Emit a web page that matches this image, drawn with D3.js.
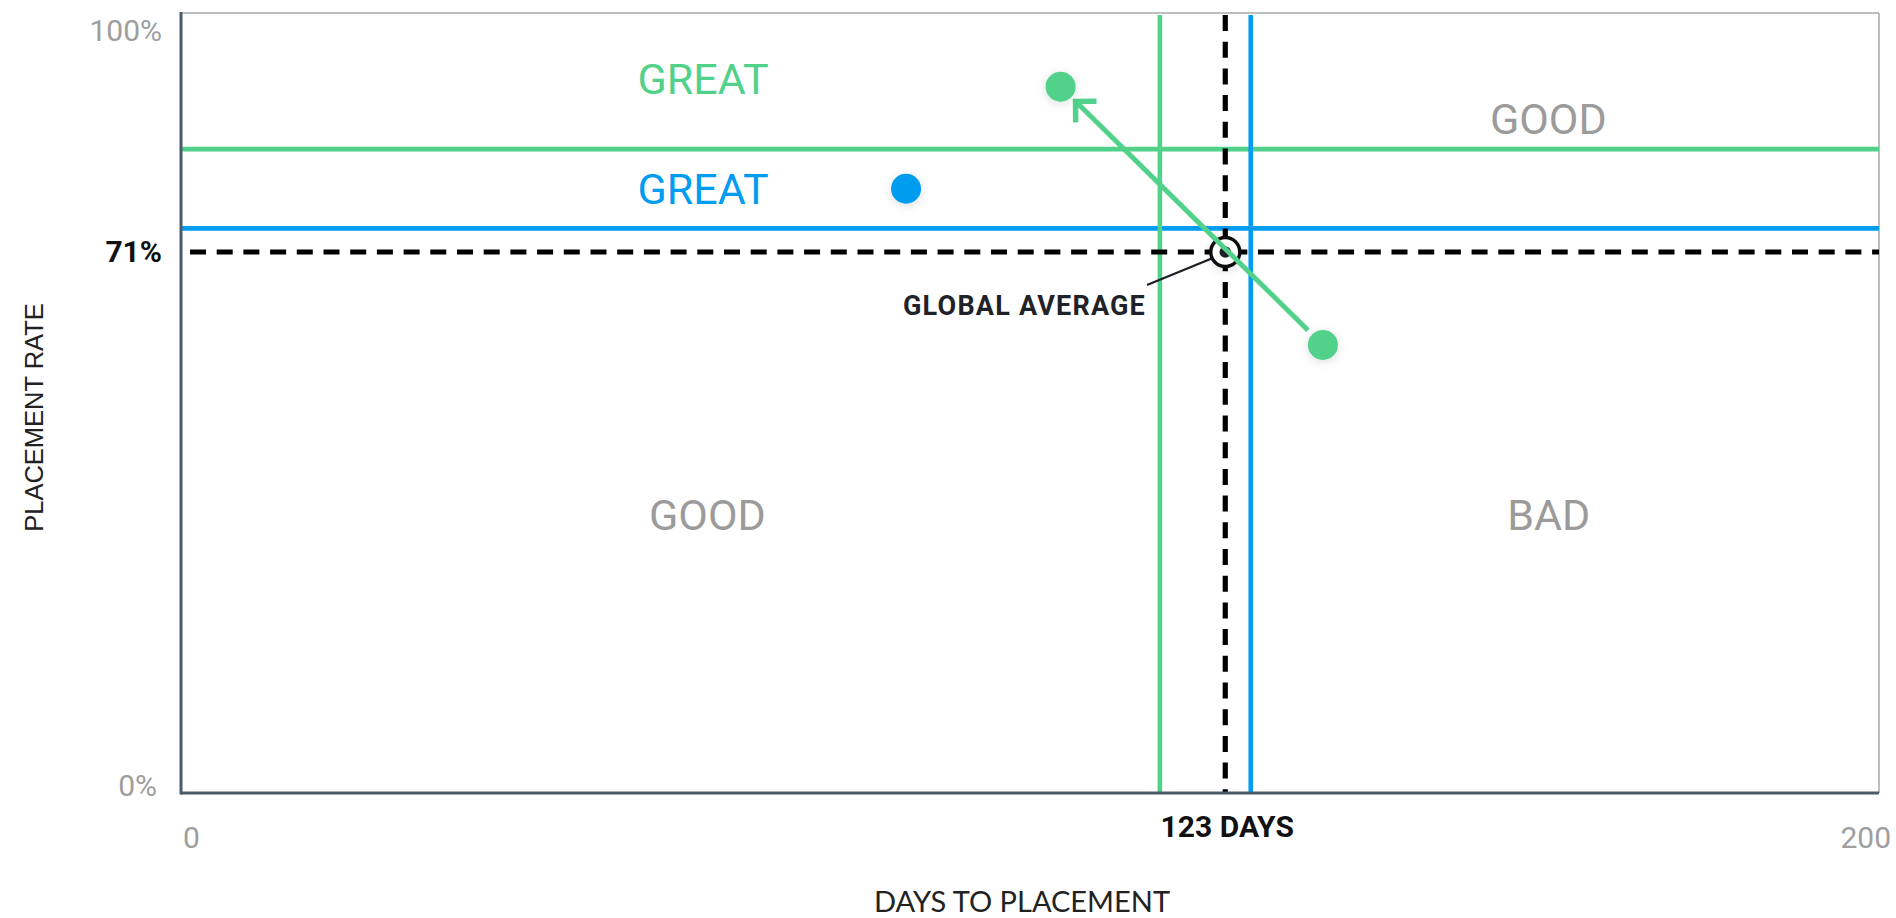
<!DOCTYPE html>
<html>
<head>
<meta charset="utf-8">
<script src="https://cdn.jsdelivr.net/npm/d3@7"></script>
<style>
  html, body { margin: 0; padding: 0; background: #ffffff; }
  svg { display: block; }
</style>
</head>
<body>
<svg id="chart" width="1896" height="918"></svg>
<script>
// Global benchmark (dashed cross-hair)
const avgDays = 123;
const avgRate = 71;

// Target thresholds per programme (solid lines)
const targetColors = ["#51d18a", "#029cf0"];
const targetDays = [115.3, 126.0];
const targetRates = [84.5, 74.1];

// Observed programmes
const pointDays = [134.5, 103.6, 85.4];
const pointRates = [58.8, 92.7, 79.3];
const pointColor = [0, 0, 1];   // index into targetColors

// Movement of the green programme: from point 0 to point 1
const moveFrom = 0;
const moveTo = 1;

// Axis tick values / labels
const xTicks = [0, 200];
const yTicks = [0, 100];
const xTitle = "DAYS TO PLACEMENT";
const yTitle = "PLACEMENT RATE";
const avgLabel = "GLOBAL AVERAGE";

// Zone captions
const zoneText = ["GREAT", "GREAT", "GOOD", "GOOD", "BAD"];
const zoneColor = ["#51d18a", "#029cf0", "#9b9b9b", "#9b9b9b", "#9b9b9b"];

const svg = d3.select("#chart");
const left = 181, right = 1879, bottom = 793, frameTop = 13;

const x = d3.scaleLinear().domain([0, 200]).range([left, right]);
const y = d3.scaleLinear().domain([0, 100]).range([bottom, 31]);

const defs = svg.append("defs");
const sh = defs.append("filter").attr("id", "soft")
  .attr("x", "-100%").attr("y", "-100%").attr("width", "300%").attr("height", "300%");
sh.append("feDropShadow").attr("dx", 0).attr("dy", 2)
  .attr("stdDeviation", 5).attr("flood-color", "#000").attr("flood-opacity", 0.13);

// Frame: thin top/right borders
svg.append("line").attr("x1", left).attr("x2", right).attr("y1", frameTop).attr("y2", frameTop)
  .attr("stroke", "#a9a9a9").attr("stroke-width", 1.5);
svg.append("line").attr("x1", right).attr("x2", right).attr("y1", frameTop).attr("y2", bottom)
  .attr("stroke", "#a9a9a9").attr("stroke-width", 1.5);

// Threshold lines
const tg = svg.append("g");
tg.selectAll("line.h").data(targetRates).join("line").attr("class", "h")
  .attr("x1", left).attr("x2", right)
  .attr("y1", d => y(d)).attr("y2", d => y(d))
  .attr("stroke", (d, i) => targetColors[i]).attr("stroke-width", 4.6);
tg.selectAll("line.v").data(targetDays).join("line").attr("class", "v")
  .attr("x1", d => x(d)).attr("x2", d => x(d))
  .attr("y1", frameTop + 2).attr("y2", bottom)
  .attr("stroke", (d, i) => targetColors[i]).attr("stroke-width", 4.6);

// Dashed global average cross-hair
svg.append("line")
  .attr("x1", left + 9).attr("x2", right)
  .attr("y1", y(avgRate)).attr("y2", y(avgRate))
  .attr("stroke", "#000").attr("stroke-width", 5.2).attr("stroke-dasharray", "16,10.7");
svg.append("line")
  .attr("x1", x(avgDays)).attr("x2", x(avgDays))
  .attr("y1", frameTop + 2).attr("y2", bottom)
  .attr("stroke", "#000").attr("stroke-width", 5.2).attr("stroke-dasharray", "16,10.7");

// Axes (left and bottom)
svg.append("line").attr("x1", left).attr("x2", left).attr("y1", frameTop - 1).attr("y2", bottom + 1.5)
  .attr("stroke", "#4d5a6a").attr("stroke-width", 3);
svg.append("line").attr("x1", left).attr("x2", right).attr("y1", bottom).attr("y2", bottom)
  .attr("stroke", "#4d5a6a").attr("stroke-width", 3);

// Global average marker + callout
const ax = x(avgDays), ay = y(avgRate);
svg.append("line")
  .attr("x1", 1147).attr("y1", ay + 33)
  .attr("x2", ax - 5).attr("y2", ay + 3)
  .attr("stroke", "#1c2026").attr("stroke-width", 2.2);
svg.append("circle").attr("cx", ax).attr("cy", ay).attr("r", 14.5)
  .attr("fill", "#fff").attr("stroke", "#111").attr("stroke-width", 3.4)
  .attr("filter", "url(#soft)");
svg.append("circle").attr("cx", ax).attr("cy", ay).attr("r", 5.8).attr("fill", "#1c2026");
svg.append("text").attr("x", 1146).attr("y", ay + 63)
  .attr("text-anchor", "end")
  .attr("font-family", "Roboto").attr("font-weight", 700).attr("font-size", 27)
  .attr("letter-spacing", 1.2).attr("fill", "#1f2329")
  .text(avgLabel);

// Movement arrow
const fx = x(pointDays[moveFrom]), fy = y(pointRates[moveFrom]);
const txp = x(pointDays[moveTo]), typ = y(pointRates[moveTo]);
const len = Math.hypot(txp - fx, typ - fy);
const ux = (txp - fx) / len, uy = (typ - fy) / len;
const gap = 21;
const sx = fx + ux * gap, sy = fy + uy * gap;
const ex = txp - ux * gap, ey = typ - uy * gap;
const arm = 21, c = Math.SQRT1_2;
const bx = -ux, by = -uy;
const a1 = [ex + arm * (c * bx - c * by), ey + arm * (c * bx + c * by)];
const a2 = [ex + arm * (c * bx + c * by), ey + arm * (-c * bx + c * by)];
svg.append("line").attr("x1", sx).attr("y1", sy).attr("x2", ex - ux).attr("y2", ey - uy)
  .attr("stroke", targetColors[0]).attr("stroke-width", 5);
svg.append("path")
  .attr("d", d3.line()([a1, [ex, ey], a2]))
  .attr("fill", "none").attr("stroke", targetColors[0]).attr("stroke-width", 5.5)
  .attr("stroke-linejoin", "miter");

// Programme points
svg.append("g").selectAll("circle").data(pointDays).join("circle")
  .attr("cx", d => x(d))
  .attr("cy", (d, i) => y(pointRates[i]))
  .attr("r", 15)
  .attr("fill", (d, i) => targetColors[pointColor[i]])
  .attr("filter", "url(#soft)");

// Zone captions (layout positions in data units)
const zonePos = [[61.5, 91.73], [61.5, 77.3], [161.05, 86.5], [62.0, 34.5], [161.1, 34.5]];
svg.append("g").selectAll("text").data(zoneText).join("text")
  .attr("x", (d, i) => x(zonePos[i][0]))
  .attr("y", (d, i) => y(zonePos[i][1]))
  .attr("text-anchor", "middle")
  .attr("font-family", "Roboto").attr("font-size", 43)
  .attr("fill", (d, i) => zoneColor[i])
  .text(d => d);

// Y tick labels
svg.append("g").selectAll("text").data(yTicks).join("text")
  .attr("x", d => d === 0 ? 157 : 162)
  .attr("y", d => d === 0 ? y(d) + 3 : y(d) + 10)
  .attr("text-anchor", "end")
  .attr("font-family", "Roboto").attr("font-size", 30)
  .attr("fill", "#9e9e9e")
  .text(d => d + "%");
svg.append("text").attr("x", 162).attr("y", y(avgRate) + 10.5)
  .attr("text-anchor", "end")
  .attr("font-family", "Roboto").attr("font-weight", 700).attr("font-size", 30)
  .attr("fill", "#111")
  .text(avgRate + "%");

// X tick labels
svg.append("g").selectAll("text").data(xTicks).join("text")
  .attr("x", (d, i) => i === 0 ? x(d) + 2 : x(d) + 12)
  .attr("y", bottom + 55)
  .attr("text-anchor", (d, i) => i === 0 ? "start" : "end")
  .attr("font-family", "Roboto").attr("font-size", 30)
  .attr("fill", "#9e9e9e")
  .text(d => d);
svg.append("text").attr("x", x(avgDays) + 2).attr("y", bottom + 44)
  .attr("text-anchor", "middle")
  .attr("font-family", "Roboto").attr("font-weight", 700).attr("font-size", 30)
  .attr("fill", "#111")
  .text(avgDays + " DAYS");

// Axis titles
svg.append("text").attr("x", 1022).attr("y", 912)
  .attr("text-anchor", "middle")
  .attr("font-family", "Lato").attr("font-size", 29)
  .attr("fill", "#222")
  .text(xTitle);
svg.append("text")
  .attr("transform", "translate(43,417.5) rotate(-90)")
  .attr("text-anchor", "middle")
  .attr("font-family", "Liberation Sans").attr("font-size", 25.5)
  .attr("fill", "#222")
  .text(yTitle);
</script>
</body>
</html>
